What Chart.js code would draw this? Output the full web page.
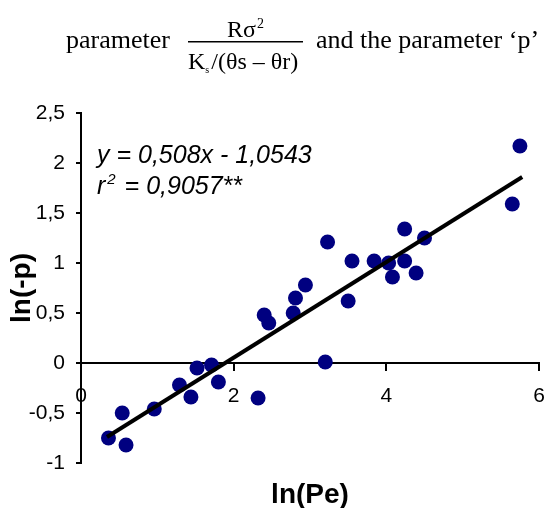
<!DOCTYPE html>
<html>
<head>
<meta charset="utf-8">
<script src="https://cdn.jsdelivr.net/npm/chart.js@4"></script>
<style>
  html, body { margin: 0; padding: 0; background: #fff; overflow: hidden; }
  canvas { display: block; }
</style>
</head>
<body>
<canvas id="chart" width="547" height="508"></canvas>
<script>
// observed points, ln(Pe) vs ln(-p)
const lnPe = [0.36, 0.54, 0.59, 0.96, 1.29, 1.44, 1.52, 1.71, 1.80, 2.32,
              2.40, 2.46, 2.78, 2.81, 2.94, 3.20, 3.23, 3.50, 3.55, 3.84,
              4.03, 4.08, 4.24, 4.24, 4.39, 4.50, 5.65, 5.75];
const lnP = [-0.75, -0.50, -0.82, -0.46, -0.22, -0.34, -0.05, -0.02, -0.19, -0.35,
             0.48, 0.40, 0.50, 0.65, 0.78, 0.01, 1.21, 0.62, 1.02, 1.02,
             1.00, 0.86, 1.34, 1.02, 0.90, 1.25, 1.59, 2.17];

// regression line as drawn
const fitX = [0.34, 5.78];
const fitY = [-0.74, 1.86];

const xTicks = [0, 2, 4, 6];
const yTicks = [-1, -0.5, 0, 0.5, 1, 1.5, 2, 2.5];

const equation = 'y = 0,508x - 1,0543';
const r2Text = ' = 0,9057**';

Chart.defaults.font.family = '"Liberation Sans", Arial, sans-serif';
Chart.defaults.color = '#000';

const comma = v => String(v).replace('.', ',');

// heading and regression text
const textPlugin = {
  id: 'texts',
  afterDraw(chart) {
    const ctx = chart.ctx;
    ctx.save();
    ctx.fillStyle = '#000';
    ctx.textBaseline = 'alphabetic';
    ctx.textAlign = 'left';
    const serif = '"Liberation Serif", "Times New Roman", serif';

    ctx.font = '26px ' + serif;
    ctx.fillText('parameter', 66, 48);
    ctx.fillText('and the parameter \u2018p\u2019', 316, 48);

    // fraction
    ctx.fillRect(188, 41, 115, 1.5);
    ctx.font = '24px ' + serif;
    ctx.fillText('R\u03c3', 227, 37);
    const wn = ctx.measureText('R\u03c3').width;
    ctx.font = '14px ' + serif;
    ctx.fillText('2', 227 + wn + 1, 28);
    ctx.font = '24px ' + serif;
    ctx.fillText('K', 188, 69);
    const wk = ctx.measureText('K').width;
    ctx.font = '10px ' + serif;
    ctx.fillText('s', 188 + wk, 73);
    ctx.font = '24px ' + serif;
    ctx.fillText('/(\u03b8s \u2013 \u03b8r)', 188 + wk + 6, 69);

    // equation
    const ital = '"Liberation Sans", Arial, sans-serif';
    ctx.font = 'italic 25px ' + ital;
    ctx.fillText(equation, 97, 163);
    ctx.fillText('r', 97, 194);
    const wr = ctx.measureText('r').width;
    ctx.font = 'italic 15px ' + ital;
    ctx.fillText('2', 97 + wr + 2, 184);
    const w2 = ctx.measureText('2').width;
    ctx.font = 'italic 25px ' + ital;
    ctx.fillText(r2Text, 97 + wr + 2 + w2 + 2, 194);
    ctx.restore();
  }
};

new Chart(document.getElementById('chart'), {
  type: 'scatter',
  data: {
    datasets: [
      {
        label: 'fit',
        data: fitX.map((x, i) => ({ x: x, y: fitY[i] })),
        showLine: true,
        borderColor: '#000',
        borderWidth: 4,
        pointRadius: 0,
        order: 0
      },
      {
        label: 'data',
        data: lnPe.map((x, i) => ({ x: x, y: lnP[i] })),
        backgroundColor: '#000080',
        borderColor: '#000080',
        borderWidth: 0,
        pointRadius: 7.5,
        order: 1
      }
    ]
  },
  options: {
    responsive: false,
    animation: false,
    layout: { padding: { left: 0, right: 8, top: 113, bottom: 45 } },
    plugins: {
      legend: { display: false },
      tooltip: { enabled: false }
    },
    scales: {
      x: {
        type: 'linear',
        position: { y: 0 },
        min: 0,
        max: 6,
        afterBuildTicks: s => { s.ticks = xTicks.map(v => ({ value: v })); },
        afterFit: s => { s.height = 149; s.paddingLeft = 0; s.paddingRight = 8; },
        ticks: { font: { size: 21 }, padding: 14, callback: comma },
        grid: { drawOnChartArea: false, drawTicks: true, tickLength: 7, color: '#000', lineWidth: 2 },
        border: { display: true, color: '#000', width: 2 },
        title: { display: true, text: 'ln(Pe)', font: { size: 28, weight: 'bold' }, padding: 0 }
      },
      y: {
        type: 'linear',
        position: 'left',
        min: -1,
        max: 2.5,
        afterBuildTicks: s => { s.ticks = yTicks.map(v => ({ value: v })); },
        afterFit: s => { s.width = 81; },
        ticks: { font: { size: 21 }, padding: 11, callback: comma },
        grid: { drawOnChartArea: false, drawTicks: true, tickLength: 5, color: '#000', lineWidth: 2 },
        border: { display: true, color: '#000', width: 2 },
        title: { display: true, text: 'ln(-p)', font: { size: 28, weight: 'bold' }, padding: { top: 5, bottom: 0 } }
      }
    }
  },
  plugins: [textPlugin]
});
</script>
</body>
</html>
